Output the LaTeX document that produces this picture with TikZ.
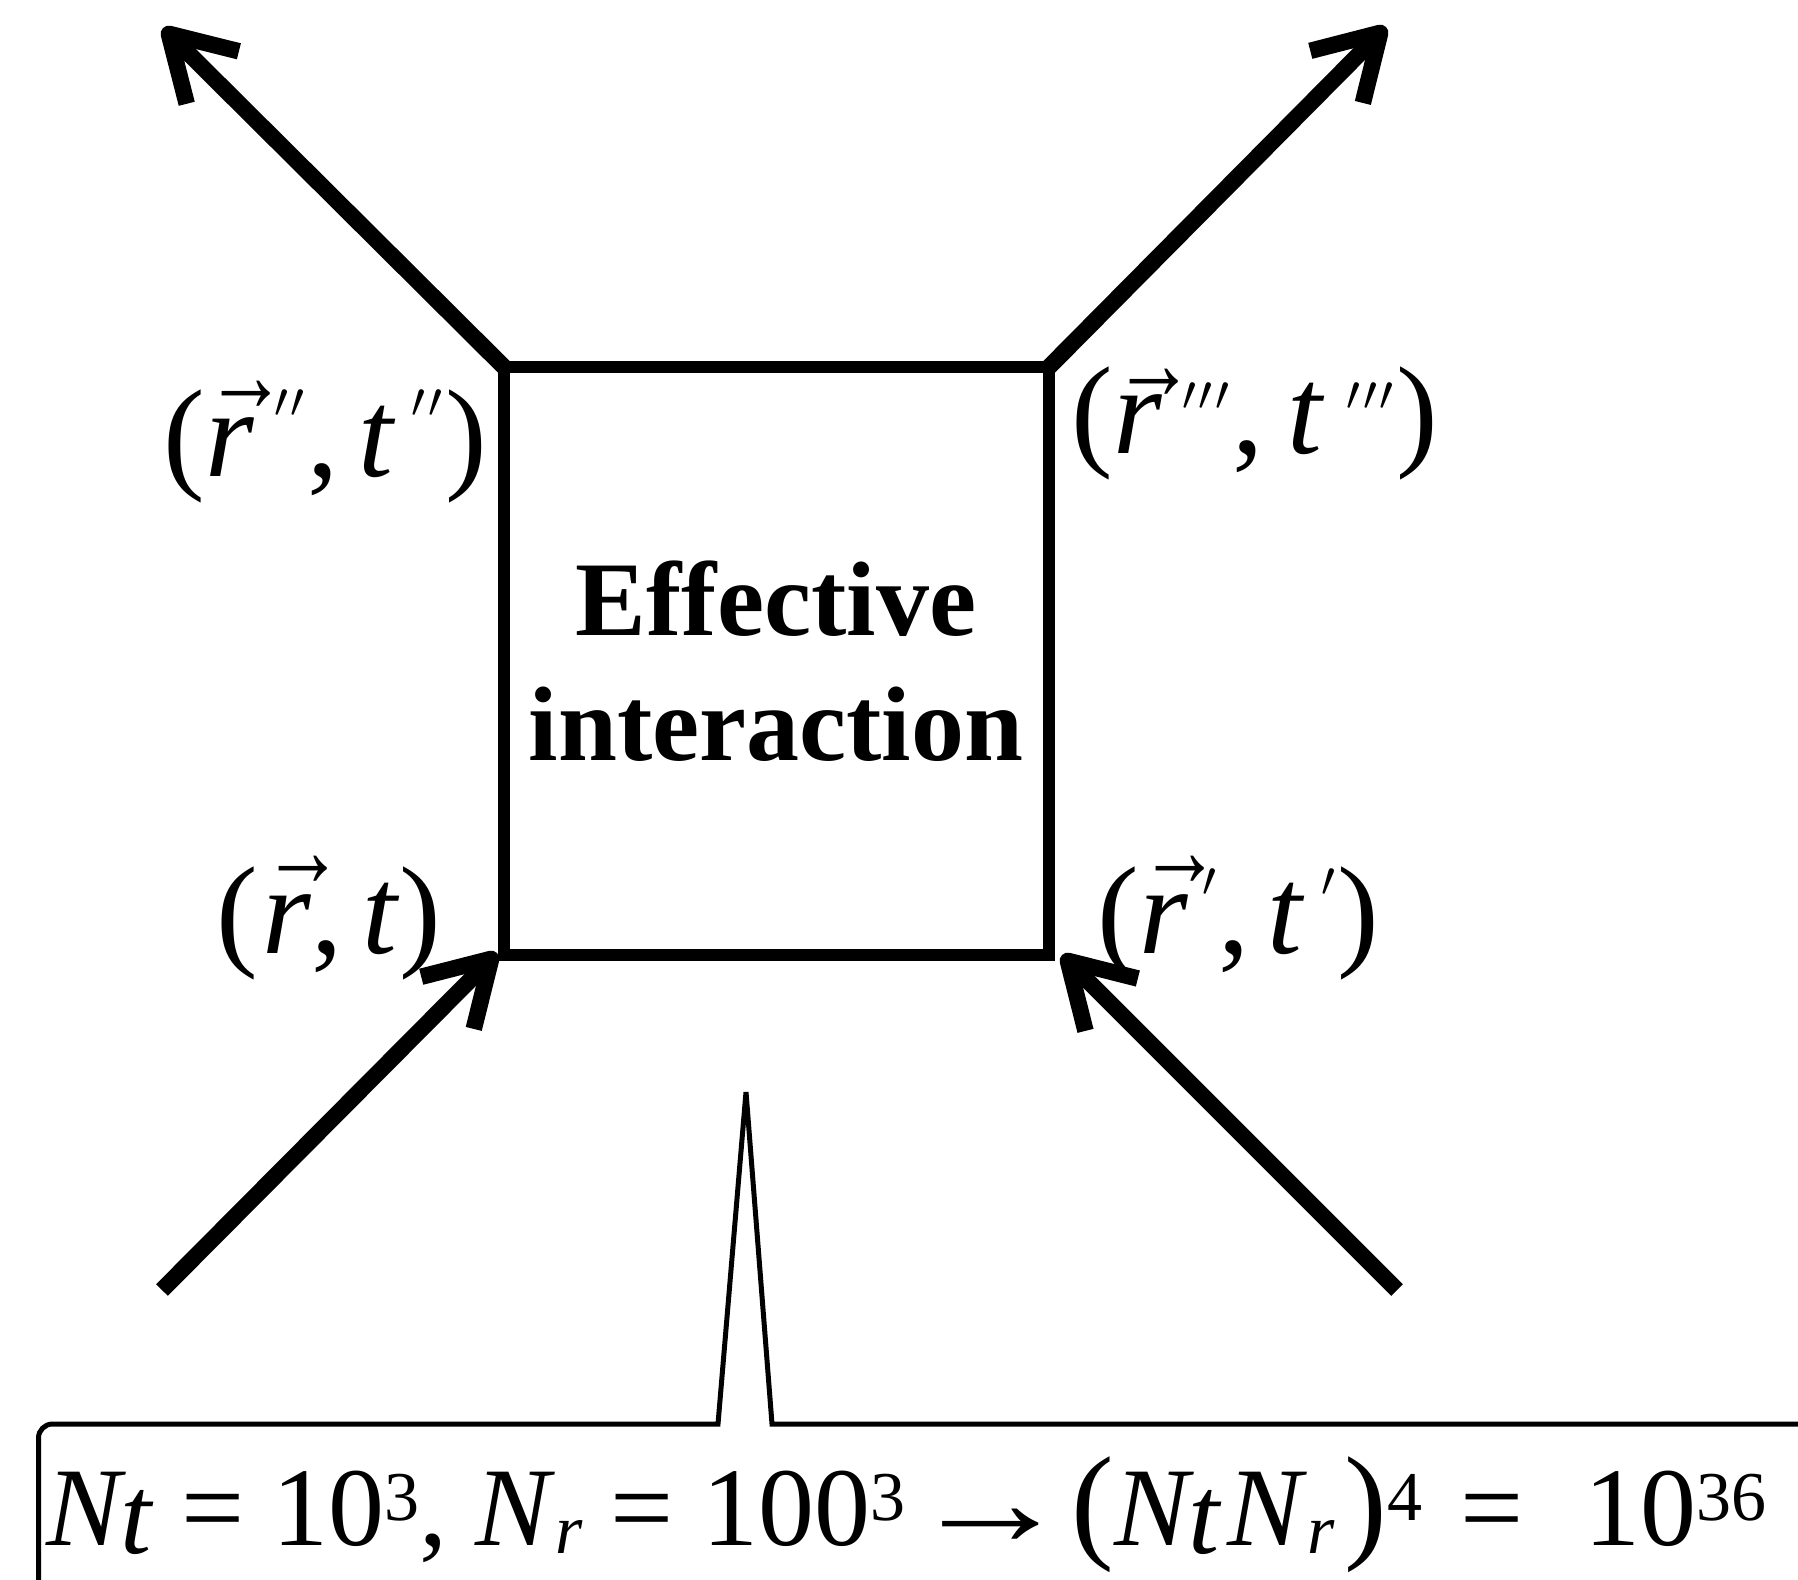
\documentclass[tikz,border=0pt]{standalone}
\usepackage{graphicx}
\usepackage{fontspec}
\setmainfont{Liberation Serif}
\usetikzlibrary{arrows.meta}
% vector r: arrow raised by #1 over italic r
\newcommand\myvr[1]{\makebox[0pt][l]{\raisebox{#1}{\fontsize{37pt}{37pt}\selectfont\scalebox{1.1}[1.45]{→}}}\textit{r}}
% prime raised by #1
\newcommand\mypr[1]{\raisebox{#1}{\fontsize{24.88pt}{24.88pt}\selectfont$\prime$}\kern1.5pt}
\newcommand\mycomma[1]{,\kern#1}
\newcommand\mysup[1]{\raisebox{12.5pt}{\fontsize{35pt}{35pt}\selectfont #1}}
\newcommand\mysub[1]{\raisebox{-4pt}{\fontsize{35pt}{35pt}\selectfont\itshape #1}}
\newcommand\myt{\kern-3pt\raisebox{-4pt}{\textit{t}}}
\newcommand\mypar[1]{{\fontsize{64pt}{64pt}\selectfont #1}}
\newcommand\myarr{\scalebox{1.45}[1.15]{→}}
\begin{document}
\begin{tikzpicture}[x=0.5pt,y=-0.5pt,
  boxstyle/.style={draw, line width=6pt, inner sep=0pt, outer sep=0pt,
    minimum width=272.5pt, minimum height=294pt},
  bigarrow/.style={line width=8.25pt, line cap=butt,
    -{Straight Barb[length=31pt,width=37pt,line cap=butt,line join=round]}},
  lab/.style={inner sep=0pt, anchor=base west, font=\fontsize{62.5pt}{62.5pt}\selectfont},
  titlestyle/.style={inner sep=0pt, align=center, anchor=base,
    font=\fontsize{53pt}{62.5pt}\selectfont\bfseries},
  callout/.style={line width=2.5pt, line join=miter},
  formula/.style={inner sep=0pt, anchor=base west, font=\fontsize{56pt}{56pt}\selectfont}]
\useasboundingbox (0,0) rectangle (1798,1579);

% central box
\node[boxstyle] (box) at (776.5,661) {};
\node[titlestyle] (title) at (776,760) {Effective\\interaction};

% arrow ends
\coordinate (tl) at (163,28);
\coordinate (tr) at (1386,27);
\coordinate (bls) at (162,1290);
\coordinate (brs) at (1397,1290);
\coordinate (blt) at (497,953);
\coordinate (brt) at (1062,955);

\draw[bigarrow] (box.north west) -- (tl);
\draw[bigarrow] (box.north east) -- (tr);
\draw[bigarrow] (bls) -- (blt);
\draw[bigarrow] (brs) -- (brt);

% labels
\node[lab] (l2) at (163,476) {(\myvr{32.5pt}\kern10pt\mypr{29.5pt}\mypr{29.5pt}\mycomma{10pt}\textit{t}\kern8pt\mypr{29.5pt}\mypr{29.5pt})};
\node[lab] (l3) at (1071,453) {(\myvr{27pt}\kern10pt\mypr{21.5pt}\mypr{21.5pt}\mypr{21.5pt}\mycomma{12pt}\textit{t}\kern11pt\mypr{21.5pt}\mypr{21.5pt}\mypr{21.5pt})};
\node[lab] (l0) at (216,953) {(\kern2pt\myvr{33.5pt}\mycomma{10pt}\textit{t})};
\node[lab] (l1) at (1097,953) {(\myvr{33.5pt}\kern7pt\mypr{28.5pt}\mycomma{9pt}\textit{t}\kern8pt\mypr{28.5pt})};

% callout
\coordinate (cl) at (38.5,1600);
\coordinate (cc) at (38.5,1424);
\coordinate (sa) at (718,1424);
\coordinate (sp) at (746,1092);
\coordinate (sb) at (772,1424);
\coordinate (cr) at (1830,1424);
\draw[callout] (cl) [rounded corners=7pt] -- (cc) [sharp corners] -- (sa) -- (sp) -- (sb) -- (cr);

\node[formula] (f) at (46,1545) {\textit{N}\myt{} = 10\mysup{3}, \textit{N}\mysub{r} = 100\mysup{3}\kern2pt\myarr\mypar{(}\textit{N}\myt\kern3pt\textit{N}\mysub{r}\kern5pt\mypar{)}\mysup{4}\kern19pt=\kern30.5pt 10\mysup{36}};
\end{tikzpicture}
\end{document}
